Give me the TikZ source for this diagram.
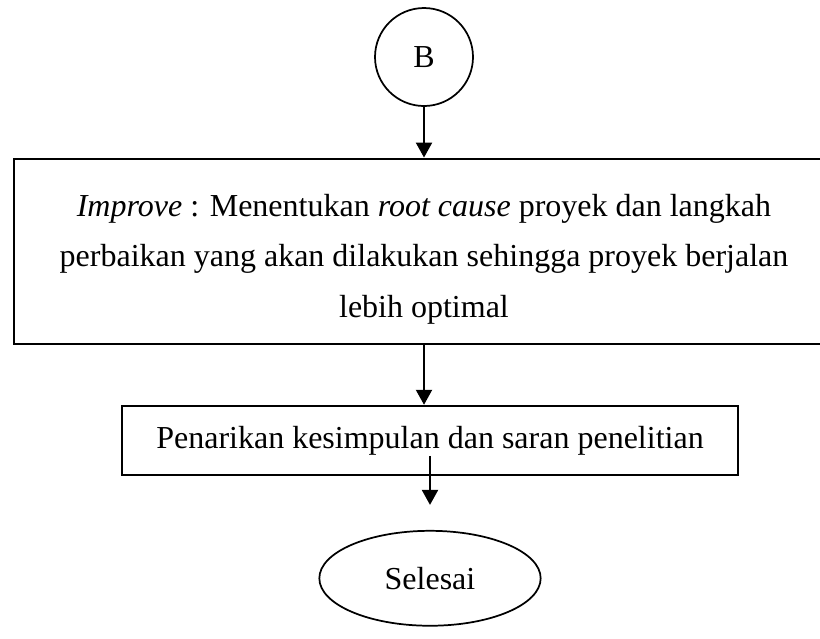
\documentclass[tikz,border=0pt]{standalone}
\usepackage{fontspec}
\setmainfont{Liberation Serif}
\usetikzlibrary{positioning,arrows.meta,shapes.geometric}

\begin{document}
\begin{tikzpicture}[x=0.375pt,y=-0.375pt,
  every node/.style={font=\fontsize{12}{14.4}\selectfont},
  box/.style={draw,line width=0.8pt,inner sep=0pt,align=center},
  term/.style={draw,line width=0.65pt,inner sep=0pt},
  arr/.style={-{Triangle[length=5.6pt,width=6pt]},line width=0.75pt}]
  \clip (0,0) rectangle (820,638);
  \node[term,circle,minimum size=36.75pt] (conB) at (424,57) {B};
  \node[box,below=19pt of conB,minimum width=307.5pt,minimum height=69.4pt] (improve) {};
  \node[align=center,font=\fontsize{12}{18.9}\selectfont] (improvetxt) at ([yshift=-3pt]improve.center)
    {\textit{Improve} : Menentukan \textit{root cause} proyek dan langkah\\
     perbaikan yang akan dilakukan sehingga proyek berjalan\\
     lebih optimal};
  \node[box,below=22.5pt of improve,xshift=2.25pt,minimum width=231pt,minimum height=25.9pt] (concl)
    {Penarikan kesimpulan dan saran penelitian};
  \node[term,ellipse,below=20.25pt of concl,minimum width=83pt,minimum height=35.6pt] (selesai) {Selesai};
  \draw[arr] (conB) -- (improve);
  \draw[arr] (improve.south) -- (improve.south |- concl.north);
  \draw[arr,shorten >=9.4pt] ([yshift=-5.8pt]concl.center) -- (selesai.north);
\end{tikzpicture}
\end{document}
